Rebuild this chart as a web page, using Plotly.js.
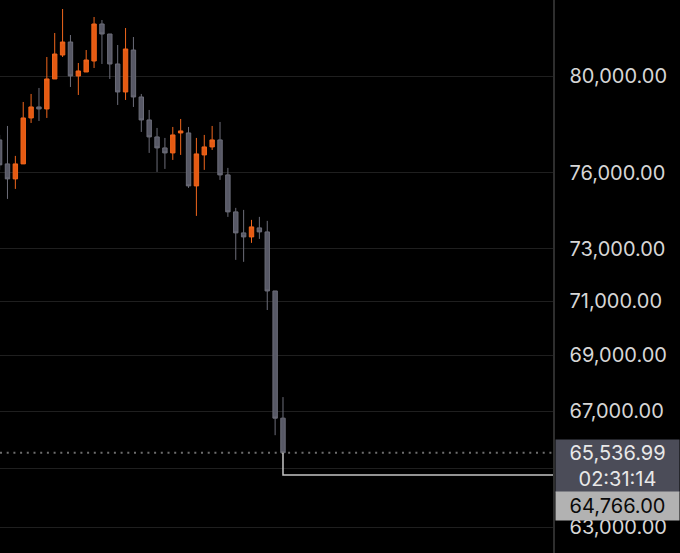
<!DOCTYPE html>
<html>
<head>
<meta charset="utf-8">
<script src="https://cdn.plot.ly/plotly-3.0.1.min.js"></script>
<style>html,body{margin:0;padding:0;background:#000;}#chart{width:680px;height:553px;}</style>
</head>
<body>
<div id="chart"></div>
<script>
// Candle values (price), oldest to newest
const openP  = [77338,76363,75759,76363,78243,78700,78617,79875,80894,81453,80002,80171,80638,82233,81798,80511,79327,81108,79117,78160,77461,77012,76808,77625,77625,75479,76727,77053,77338,75919,74448,73625,73468,73820,73663,71396,66747];
const highP  = [77543,77912,76687,78908,79243,79495,80809,81842,82888,81755,80553,81108,82538,82407,81798,81323,82059,81668,79243,78575,77830,77420,77871,78201,77871,77420,77543,77912,78077,76201,74606,74526,74133,74251,74094,71396,67496];
const lowP   = [76121,74961,75359,76363,78036,78118,78243,79875,80809,79537,79201,80171,80341,80511,79875,78783,78992,78700,77666,76808,76040,76161,76524,76727,75399,74290,76121,76930,75719,74251,72581,72505,73236,73391,70679,66148,65536.99];
const closeP = [76323,75759,76363,78243,78700,78617,79875,80937,81453,80002,80213,80681,82233,81798,80511,79327,81152,79117,78160,77461,77012,76808,77543,77707,75479,76768,77053,77338,75919,74448,73625,73468,73859,73663,71396,66747,65536.99];

// Axis ticks (65,000 label is hidden behind the price box in the reference)
const tickValues = [80000,76000,73000,71000,69000,67000,65000,63000];
const tickLabels = ["80,000.00","76,000.00","73,000.00","71,000.00","69,000.00","67,000.00","","63,000.00"];

// Price markers
const currentPrice = 65536.99;
const currentPriceLabel = "65,536.99";
const countdownLabel = "02:31:14";
const alertPrice = 64766.00;
const alertPriceLabel = "64,766.00";

const idx = openP.map((_, i) => i);
const lastIdx = idx[idx.length - 1];
const xRange = [0.05, 70.3];
const yTop = Math.log10(83284);
const yRange = [yTop - 553/4350, yTop];
const FONT = 'Inter, "Liberation Sans", sans-serif';

const traces = [
  {
    type: 'candlestick',
    x: idx, open: openP, high: highP, low: lowP, close: closeP,
    increasing: {line: {color: '#f0661c', width: 1}, fillcolor: '#e55a12'},
    decreasing: {line: {color: '#6c6d79', width: 1}, fillcolor: '#575865'},
    whiskerwidth: 0,
    hoverinfo: 'skip',
    showlegend: false
  },
  {
    type: 'scatter', mode: 'lines',
    x: [xRange[0], xRange[1]], y: [currentPrice, currentPrice],
    line: {color: '#6e6e6e', width: 2, dash: '2px,4.7px'},
    hoverinfo: 'skip', showlegend: false
  },
  {
    type: 'scatter', mode: 'lines',
    x: [lastIdx, lastIdx, xRange[1]], y: [currentPrice, alertPrice, alertPrice],
    line: {color: '#c4c4c4', width: 1.5},
    hoverinfo: 'skip', showlegend: false
  }
];

const layout = {
  width: 680, height: 553,
  paper_bgcolor: '#000000', plot_bgcolor: '#000000',
  margin: {l: 0, r: 127, t: 0, b: 0, pad: 0},
  boxgap: 0.2,
  showlegend: false,
  font: {family: FONT, color: '#d6d6d6', size: 20},
  xaxis: {
    range: xRange, showgrid: false, zeroline: false, showticklabels: false,
    showline: false, ticks: '', rangeslider: {visible: false}, fixedrange: true
  },
  yaxis: {
    type: 'log', side: 'right', range: yRange,
    tickvals: tickValues, ticktext: tickLabels,
    showgrid: true, gridcolor: '#1f1f1f', gridwidth: 1,
    showline: true, linecolor: '#2e2e2e', linewidth: 1.5,
    ticks: 'outside', ticklen: 11, tickcolor: 'rgba(0,0,0,0)',
    tickfont: {family: FONT, size: 20, color: '#d6d6d6'},
    zeroline: false, fixedrange: true
  },
  annotations: [
    {
      xref: 'paper', yref: 'y', x: 555/553, y: Math.log10(currentPrice),
      xanchor: 'left', yanchor: 'middle', yshift: -13,
      text: currentPriceLabel + '<br>' + countdownLabel,
      showarrow: false, width: 123, height: 52, align: 'center',
      bgcolor: '#4b4c58', borderpad: 0,
      font: {family: FONT, size: 20, color: '#e8e8e8'}
    },
    {
      xref: 'paper', yref: 'y', x: 555/553, y: Math.log10(currentPrice),
      xanchor: 'left', yanchor: 'middle', yshift: -53,
      text: alertPriceLabel,
      showarrow: false, width: 123, height: 28, align: 'center',
      bgcolor: '#b2b2b2', borderpad: 0,
      font: {family: FONT, size: 20, color: '#0a0a0a'}
    }
  ]
};

Plotly.newPlot('chart', traces, layout, {staticPlot: true, displayModeBar: false});
</script>
</body>
</html>
